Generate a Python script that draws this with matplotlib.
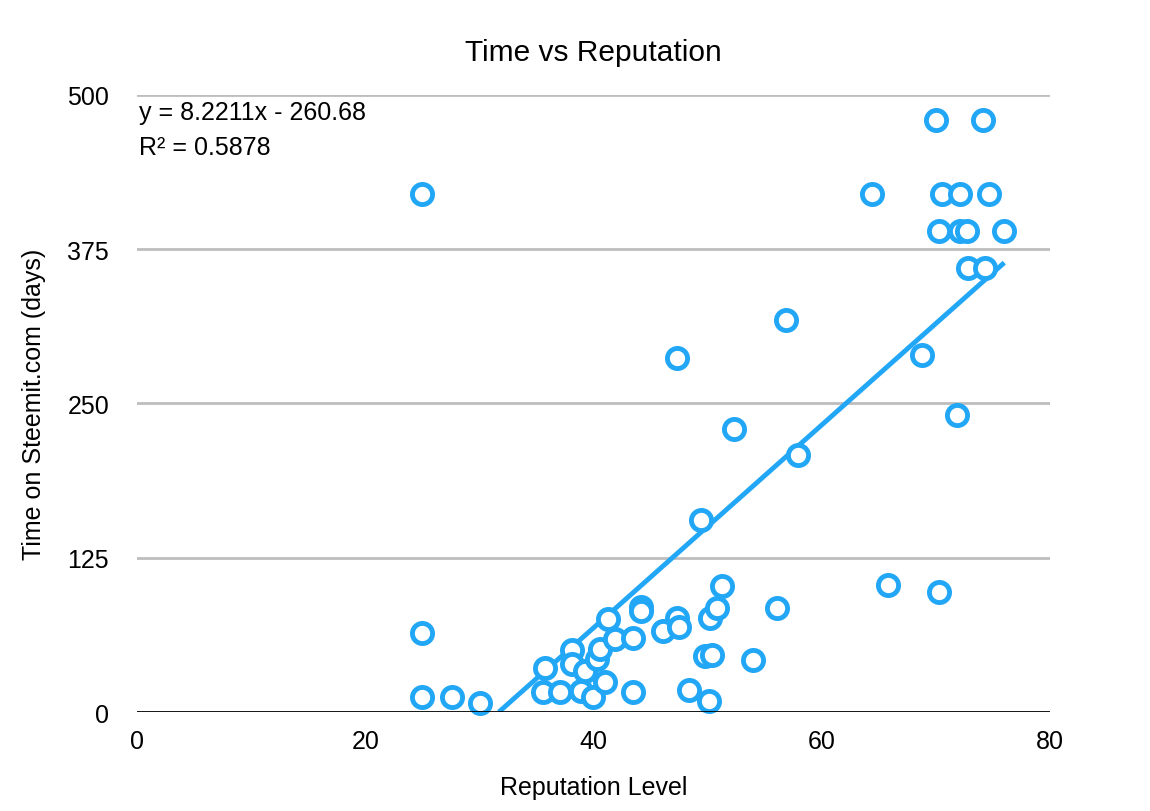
import matplotlib
matplotlib.use("Agg")
import matplotlib.pyplot as plt

reputation = [25, 25, 25, 27.6, 30.05, 35.75, 35.6, 37.1, 38.1, 38.1,
              38.9, 39.3, 40.0, 40.3, 40.6, 41.0, 41.3, 41.9, 43.5, 43.5,
              44.2, 44.2, 46.1, 47.3, 47.5, 47.3, 48.4, 49.4, 49.8, 50.4,
              50.2, 50.1, 50.8, 51.3, 52.3, 54.0, 56.05, 56.9, 57.9, 64.4,
              65.8, 68.8, 70.0, 70.3, 70.3, 70.5, 71.85, 72.1, 72.1, 72.7,
              72.8, 74.1, 74.3, 74.7, 76.0]
days = [420, 64, 12, 12, 7, 36, 16.5, 16, 50, 39,
        17, 33, 12, 43, 51, 24, 75, 59, 16, 60,
        85, 82, 66, 76, 69, 287, 18, 156, 45, 46,
        76, 9, 84, 102, 229, 42, 84, 318, 208, 420,
        103, 289, 480, 390, 97, 420, 241, 420, 390, 390,
        360, 480, 360, 420, 390]

slope = 8.2211
intercept = -260.68
blue = '#22a7f6'

def main():
    plt.rcParams['font.family'] = ['Liberation Sans', 'DejaVu Sans']
    fig = plt.figure(figsize=(11.5, 8.12), dpi=100)
    ax = fig.add_axes([0.1191, 0.1219, 0.7939, 0.7599])

    # trendline, clipped at y = 0
    x0 = -intercept / slope
    x1 = max(reputation)
    ax.plot([x0, x1], [slope * x0 + intercept, slope * x1 + intercept],
            color=blue, lw=3.5, solid_capstyle='butt', zorder=2)

    ax.plot(reputation, days, 'o', ms=14.5, mfc='white', mec=blue, mew=3.5,
            ls='none', zorder=3, clip_on=False)

    ax.set_xlim(0, 80)
    ax.set_ylim(0, 500)
    ax.set_xticks([0, 20, 40, 60, 80])
    ax.set_yticks([0, 125, 250, 375, 500])
    for v in [125, 250, 375, 500]:
        ax.axhline(v, color='#bdbdbd', lw=2, zorder=1)
    ax.axhline(0, color='black', lw=2, zorder=4)

    for s in ax.spines.values():
        s.set_visible(False)
    ax.tick_params(length=0, labelsize=18)
    ax.tick_params(axis='y', pad=20)
    ax.tick_params(axis='x', pad=12)

    ax.set_title("Time vs Reputation", fontsize=21.5, pad=25)
    ax.set_xlabel("Reputation Level", fontsize=18, labelpad=16)
    ax.set_ylabel("Time on Steemit.com (days)", fontsize=18, labelpad=15)

    ax.text(0.002, 0.972, "y = 8.2211x - 260.68", transform=ax.transAxes,
            fontsize=18, va='center', ha='left')
    ax.text(0.002, 0.916, "R² = 0.5878", transform=ax.transAxes,
            fontsize=18, va='center', ha='left')

    fig.savefig("out.png", dpi=100)

if __name__ == "__main__":
    main()
